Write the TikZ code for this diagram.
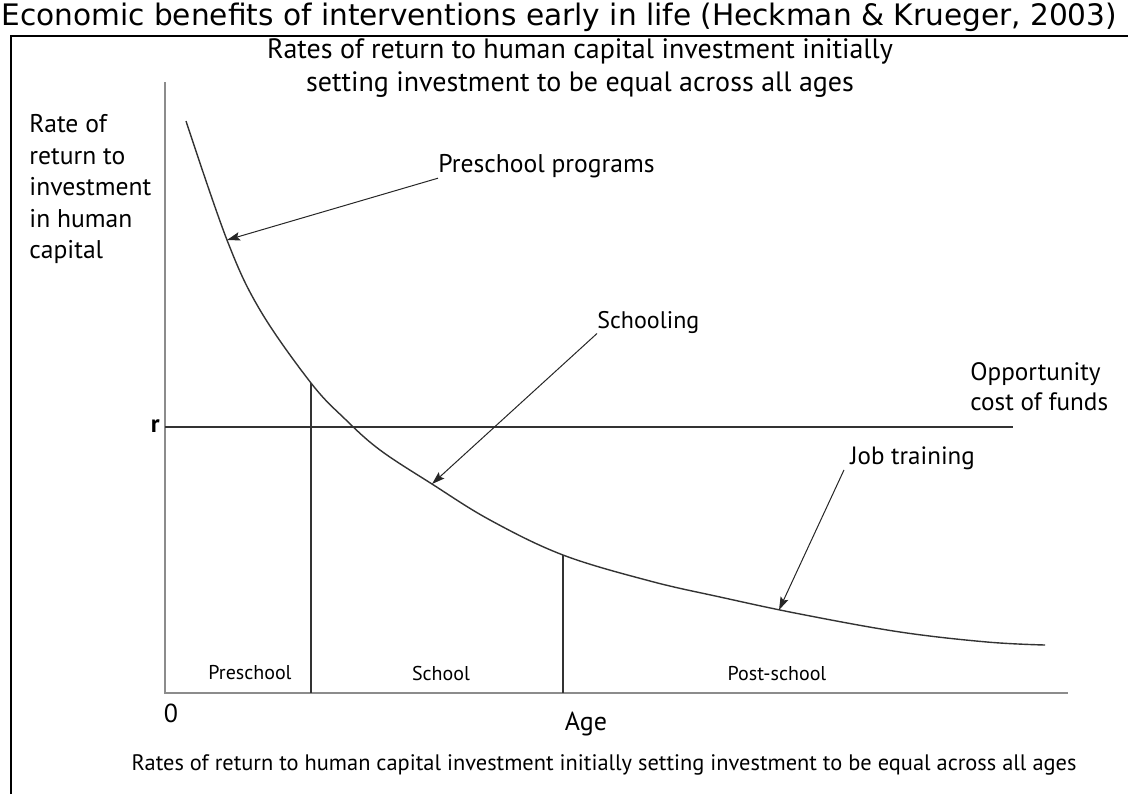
\documentclass[tikz,border=0pt]{standalone}
\usepackage{fontspec}
\setmainfont{PT Sans}
\newfontfamily\entete{DejaVu Sans}
\usetikzlibrary{arrows.meta}
\begin{document}
\begin{tikzpicture}[x=0.5pt,y=-0.5pt]
    \tikzstyle{fleche}=[->,>={Stealth[length=6.5pt,width=4.2pt,inset=1.2pt]},line width=0.5pt,black!85]
    \tikzstyle{trait}=[black!80,line width=0.8pt]
    \tikzstyle{axe}=[black!45,line width=1.4pt]
\tikzset{texte/.style={inner sep=0pt,font=\fontsize{#1}{15}\selectfont},
texte/.default={12}}
\useasboundingbox (0,0) rectangle (1128,794);

% bandeau et cadre
\node[anchor=base west,inner sep=0pt,font=\entete\fontsize{14.8}{16}\selectfont] (bandeau) at (1,25)
    {Economic benefits of interventions early in life (Heckman \& Krueger, 2003)};
\draw[line width=1.2pt] (11,794) |- (1128,36);

\node[inner sep=0pt,align=center,font=\fontsize{14}{16.5}\selectfont] (sujet) at (580,68)
    {Rates of return to human capital investment initially\\setting investment to be equal across all ages};

% axes
\coordinate (O) at (165,693);
\coordinate (haut) at (165,82);
\coordinate (droite) at (1068,693);
\draw[axe] (haut) -- (O) -- (droite);
\node[inner sep=0pt,align=left,anchor=north west,font=\fontsize{12.8}{15.8}\selectfont] (ordonnee) at (29,114)
    {Rate of\\return to\\investment\\in human\\capital};
\node[texte=13] (zero) at (171,713) {0};
\node[texte=13] (age) at (586,724) {Age};

% cout d'opportunite
\node[inner sep=0pt,font=\bfseries\fontsize{12.5}{14}\selectfont,anchor=east] (r) at (160,426) {r};
\coordinate (r0) at (165,427);
\coordinate (r1) at (1013,427);
\draw[trait] (r0) -- (r1);
\node[texte=12.6,align=left,anchor=north west] (cout) at (970,362) {Opportunity\\cost of funds};

% courbe
\coordinate (p1) at (311,383);
\coordinate (p2) at (563,555);
\coordinate (pp) at (227,240);
\coordinate (ps) at (432,484);
\coordinate (pj) at (779,610);
\draw[trait,line width=0.7pt] plot[smooth,tension=0.6] coordinates {(186,121) (227,240) (260,310) (311,383)
    (345,419) (380,450) (432,484) (490,520) (563,555) (650,581) (720,597) (800,614) (900,632) (987,642) (1045,645)};

\draw[trait] (p1) -- (p1 |- O);
\draw[trait] (p2) -- (p2 |- O);
\node[texte=10] (prescolaire) at (250,673) {Preschool};
\node[texte=10] (ecole) at (441,673) {School};
\node[texte=10] (apres) at (777,674) {Post-school};

% fleches
\node[texte=12.8,anchor=west] (programmes) at (438,166) {Preschool programs};
\node[texte=12,anchor=west] (scolarite) at (597,322) {Schooling};
\node[texte=12.5,anchor=west] (formation) at (850,458) {Job training};
\draw[fleche] (programmes.south west) -- (pp);
\draw[fleche] (scolarite.south west) -- (ps);
\draw[fleche] ([xshift=-3pt]formation.south west) -- (pj);

\node[texte=11.2] (legende) at (604,765)
    {Rates of return to human capital investment initially setting investment to be equal across all ages};
  \end{tikzpicture}
\end{document}
